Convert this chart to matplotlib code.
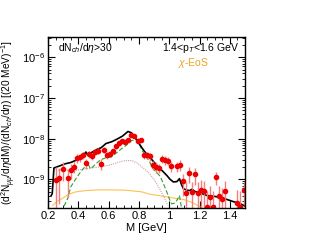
#Dimuon mass spectrum, dN/deta>30, 1.4<pT<1.6 GeV, chi-EoS comparison

import numpy as np
import matplotlib.pyplot as plt
from matplotlib.ticker import MultipleLocator, FixedLocator, NullFormatter

plt.rcParams['font.family'] = ['Liberation Sans', 'DejaVu Sans']
plt.rcParams['mathtext.fontset'] = 'custom'
plt.rcParams['mathtext.rm'] = 'Liberation Sans'
plt.rcParams['mathtext.it'] = 'Liberation Sans:italic'

#data points
mass = [0.25,0.27,0.30,0.33,0.35,0.37,0.39,0.41,0.43,0.45,0.47,0.49,0.51,0.53,0.55,
        0.57,0.59,0.61,0.63,0.65,0.67,0.69,0.71,0.73,0.75,0.77,0.79,0.81,0.83,0.85,
        0.87,0.89,0.91,0.93,0.95,0.97,0.99,1.01,1.05,1.07,1.09,1.11,1.13,1.15,1.17,
        1.19,1.21,1.23,1.25,1.27,1.29,1.31,1.33,1.35,1.37,1.45,1.47,1.49]
yield_ = [9.5e-10,1.05e-9,1.8e-9,1.07e-9,1.7e-9,2.0e-9,3.4e-9,3.5e-9,3.9e-9,2.5e-9,
          4.1e-9,3.7e-9,4.7e-9,5.0e-9,2.4e-9,5.3e-9,3.9e-9,4.3e-9,4.9e-9,6.6e-9,
          7.6e-9,8.8e-9,8.4e-9,9.1e-9,1.2e-8,1.15e-8,9.0e-9,9.3e-9,3.9e-9,3.9e-9,
          3.7e-9,2.3e-9,2.0e-9,1.9e-9,3.2e-9,3.0e-9,2.9e-9,2.1e-9,2.1e-9,2.3e-9,
          8.9e-10,4.6e-10,1.4e-9,4.8e-10,1.33e-9,4.6e-10,5.4e-10,5.2e-10,2.1e-10,3.7e-10,
          2.1e-10,1.14e-9,3.9e-10,3.2e-10,5.2e-10,2.6e-10,2.1e-10,5.4e-10]
err = [1.1e-9,8e-10,9e-10,7e-10,7e-10,6e-10,9e-10,8e-10,8e-10,7e-10,
       8e-10,7e-10,8e-10,8e-10,7e-10,9e-10,8e-10,8e-10,8e-10,9e-10,
       1.0e-9,1.1e-9,1.1e-9,1.1e-9,1.3e-9,1.3e-9,1.2e-9,1.2e-9,8e-10,8e-10,
       8e-10,6e-10,6e-10,5e-10,7e-10,7e-10,7e-10,6e-10,6e-10,7e-10,
       5e-10,4e-10,6e-10,4e-10,6e-10,4e-10,4e-10,4e-10,3e-10,3e-10,
       3e-10,4e-10,3e-10,3e-10,4e-10,3e-10,3e-10,3e-10]

#total (black)
m_tot = [0.22,0.227,0.238,0.27,0.311,0.35,0.38,0.42,0.449,0.46,0.48,0.515,0.55,0.582,0.62,
         0.649,0.69,0.727,0.749,0.775,0.8,0.83,0.857,0.871,0.9,0.927,0.955,0.983,1.005,1.027,
         1.05,1.067,1.08,1.093,1.116,1.135,1.149,1.171,1.21,1.249,1.3,1.338,1.38,1.427,1.47,1.5]
y_tot = [4.0e-10,4.5e-10,1.9e-9,2.1e-9,2.4e-9,2.6e-9,2.9e-9,3.4e-9,4.7e-9,4.0e-9,4.4e-9,5.3e-9,6.0e-9,7.6e-9,8.4e-9,
         9.5e-9,1.15e-8,1.5e-8,1.4e-8,1.05e-8,7.6e-9,5.2e-9,3.9e-9,3.5e-9,2.6e-9,2.0e-9,1.6e-9,1.25e-9,1.0e-9,8.6e-10,
         8.8e-10,1.04e-9,7.5e-10,5.9e-10,5.4e-10,5.3e-10,5.7e-10,5.0e-10,4.5e-10,4.0e-10,3.8e-10,3.6e-10,3.2e-10,2.8e-10,2.5e-10,2.2e-10]

#rho-like (green dashed)
m_rho = [0.305,0.33,0.349,0.38,0.413,0.44,0.455,0.48,0.51,0.545,0.582,0.615,0.649,0.68,0.716,
         0.749,0.78,0.8,0.822,0.845,0.867,0.893,0.915,0.938,0.96,0.983,1.0,1.016,1.035,1.049,
         1.067,1.08]
y_rho = [2.2e-10,3.5e-10,6.5e-10,1.0e-9,1.5e-9,2.0e-9,2.7e-9,1.8e-9,2.3e-9,3.0e-9,3.4e-9,3.5e-9,4.4e-9,5.5e-9,6.9e-9,
         8.9e-9,9.5e-9,7.5e-9,5.0e-9,3.6e-9,2.8e-9,1.8e-9,1.5e-9,1.2e-9,8e-10,4.9e-10,3.3e-10,2.5e-10,2.6e-10,3.0e-10,
         4.0e-10,2.0e-10]

#dotted (rosy brown)
m_dot = [0.25,0.311,0.4,0.44,0.53,0.6,0.66,0.71,0.75,0.79,0.82,0.86,0.89,0.916,0.94,0.96,0.99]
y_dot = [1.7e-9,1.66e-9,1.7e-9,1.8e-9,2.0e-9,2.2e-9,2.6e-9,2.9e-9,2.9e-9,2.5e-9,2.0e-9,1.5e-9,1.1e-9,7.8e-10,5.5e-10,4.0e-10,2.3e-10]

#chi-EoS (orange)
m_eos = [0.23,0.26,0.289,0.33,0.38,0.45,0.533,0.62,0.71,0.78,0.82,0.871,0.93,0.983,1.04,1.093,1.15,1.204]
y_eos = [2.3e-10,2.9e-10,3.3e-10,4.2e-10,4.9e-10,5.3e-10,5.5e-10,5.5e-10,5.4e-10,5.1e-10,4.9e-10,4.3e-10,4.0e-10,3.7e-10,3.4e-10,3.2e-10,2.7e-10,2.1e-10]


fig = plt.figure(figsize=(3.17,2.45), dpi=100)
ax = fig.add_axes([0.152,0.152,0.621,0.698])

ax.plot(m_eos, y_eos, color="#ffc050", lw=0.8)
ax.plot(m_dot, y_dot, color="#c9a0a0", lw=0.8, ls=(0,(1,1)))
ax.plot(m_rho, y_rho, color="#2ea02e", lw=0.8, ls=(0,(4,2)))
ax.plot(m_tot, y_tot, color="black", lw=1.2)
ax.errorbar(mass, yield_, yerr=err, fmt="o", color="#ee0000", ms=3,
            ecolor="#f08080", elinewidth=1.0, capsize=0)

ax.set_yscale("log")
ax.set_xlim(0.2,1.5)
ax.set_ylim(2e-10,3.2e-6)
ax.xaxis.set_minor_locator(MultipleLocator(0.05))
ax.set_yticks([1e-9,1e-8,1e-7,1e-6])
minors = [k*10.0**e for e in range(-10,-5) for k in range(2,10) if 2e-10 <= k*10.0**e <= 3.2e-6]
ax.yaxis.set_minor_locator(FixedLocator(minors))
ax.yaxis.set_minor_formatter(NullFormatter())
ax.set_xticks([0.2,0.4,0.6,0.8,1.0,1.2,1.4])
ax.set_xticklabels(["0.2","0.4","0.6","0.8","1","1.2","1.4"])
ax.tick_params(which="both", direction="in", top=True, right=True, labelsize=8, pad=2)
ax.tick_params(which="major", length=5)
ax.tick_params(which="minor", length=2.5)
for s in ax.spines.values():
    s.set_linewidth(1.0)

ax.set_xlabel("M [GeV]", fontsize=8, labelpad=2)
ax.set_ylabel(r"(d$^2$N$_{\mu\mu}$/d$\eta$dM)/(dN$_{ch}$/d$\eta$) [(20 MeV)$^{-1}$]", fontsize=7.3, labelpad=3)

ax.text(0.05,0.935, r"dN$_{ch}$/d$\eta$>30", transform=ax.transAxes, fontsize=7.5, va="center", ha="left")
ax.text(0.97,0.935, r"1.4<p$_T$<1.6 GeV", transform=ax.transAxes, fontsize=7.5, va="center", ha="right")
ax.text(0.74,0.845, r"$\chi$-EoS", transform=ax.transAxes, fontsize=7.5, va="center", ha="center", color="#f0a020")

fig.savefig("out.png", dpi=100)
